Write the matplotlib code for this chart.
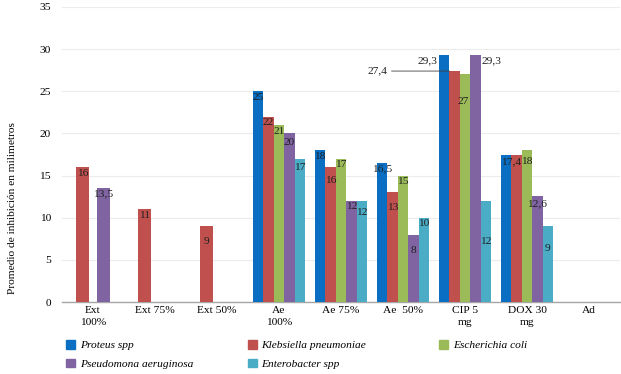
import numpy as np
import matplotlib
matplotlib.use("Agg")
import matplotlib.pyplot as plt
from matplotlib.patches import Patch

# --- data ---
categories = ["Ext\n100%", "Ext 75%", "Ext 50%", "Ae\n100%", "Ae 75%",
              "Ae  50%", "CIP 5\nmg", "DOX 30\nmg", "Ad"]
series_names = ["Proteus spp", "Klebsiella pneumoniae", "Escherichia coli",
                "Pseudomona aeruginosa", "Enterobacter spp"]
proteus = [0, 0, 0, 25, 18, 16.5, 29.3, 17.4, 0]
klebsiella = [16, 11, 9, 22, 16, 13, 27.4, 17.4, 0]
ecoli = [0, 0, 0, 21, 17, 15, 27, 18, 0]
pseudomona = [13.5, 0, 0, 20, 12, 8, 29.3, 12.6, 0]
enterobacter = [0, 0, 0, 17, 12, 10, 12, 9, 0]
yticks = [0, 5, 10, 15, 20, 25, 30, 35]

series = [proteus, klebsiella, ecoli, pseudomona, enterobacter]
colors = ["#0A6EC2", "#C0504D", "#9BBB59", "#8064A2", "#4BACC6"]

# label placement tweaks (category, series) -> (dx px, dy px below top, ha)
label_tweaks = {
    (2, 1): (0, 15, "center"),
    (3, 3): (0, 9, "center"),
    (3, 4): (0, 9, "center"),
    (4, 1): (0, 13, "center"),
    (4, 4): (0, 12, "center"),
    (5, 1): (0, 15, "center"),
    (5, 3): (0, 16, "center"),
    (6, 0): (-1, 6, "right"),
    (6, 2): (-2, 27, "center"),
    (6, 3): (1, 6, "left"),
    (6, 4): (0, 41, "center"),
    (7, 0): (5, 6, "center"),
    (7, 2): (0, 11, "center"),
    (7, 3): (0, 8, "center"),
    (7, 4): (0, 22, "center"),
}
skip_labels = {(7, 1), (6, 1)}

plt.rcParams["font.family"] = ["Liberation Serif", "DejaVu Serif"]

fig = plt.figure(figsize=(6.21, 3.74), dpi=100)
ax = fig.add_axes([62 / 621, 72 / 374, 558 / 621, 295 / 374])

x = np.arange(len(categories))
n_ext = 3
w5 = 0.168
w2 = 0.21
text_col = "#1f1f1f"
fs = 8.2

for i in range(len(categories)):
    for s, vals in enumerate(series):
        v = vals[i]
        if i < n_ext:
            if s not in (1, 3):
                continue
            xc = x[i] + (-0.17 if s == 1 else 0.17)
            w = w2
        else:
            xc = x[i] + (s - 2) * w5
            w = w5
        if v == 0:
            continue
        ax.bar(xc, v, width=w, color=colors[s], zorder=3)
        if (i, s) in skip_labels:
            continue
        dx, dy, ha = label_tweaks.get((i, s), (0, 6, "center"))
        if ha == "right":
            dx -= w * 62 / 2
        elif ha == "left":
            dx += w * 62 / 2
        txt = ("%g" % v).replace(".", ",")
        ax.annotate(txt, (xc, v), xytext=(dx, -dy), textcoords="offset pixels",
                    ha=ha, va="center", fontsize=fs, color=text_col, zorder=4)

# 27,4 label with leader line to the Klebsiella CIP bar
xr = x[6] - 1 * w5
ax.annotate("27,4", (xr - w5 / 2, klebsiella[6]), xytext=(-62, 0),
            textcoords="offset pixels", ha="right", va="center", fontsize=fs,
            color=text_col, zorder=4,
            arrowprops=dict(arrowstyle="-", color="#404040", lw=0.6,
                            shrinkA=1, shrinkB=0))

ax.set_xlim(-0.5, len(categories) - 0.5)
ax.set_ylim(0, 35)
ax.set_yticks(yticks)
ax.set_xticks(x)
ax.set_xticklabels(categories, fontsize=fs, linespacing=1.4)
ax.tick_params(axis="y", labelsize=fs, length=0, pad=8)
ax.tick_params(axis="x", length=0, pad=3)
ax.grid(axis="y", color="#ececec", lw=0.8, zorder=0)
for side in ["top", "right", "left"]:
    ax.spines[side].set_visible(False)
ax.spines["bottom"].set_color("#a6a6a6")
ax.spines["bottom"].set_linewidth(1.0)

ax.set_ylabel("Promedio de inhibición en milimetros", fontsize=fs)
ax.yaxis.set_label_coords(-45 / 558, (302 - 208) / 295)

# legend: first two columns (row-wise order), third column separately
leg_kw = dict(loc="upper left", frameon=False, prop={"style": "italic", "size": fs},
              handlelength=0.75, handleheight=0.75, handletextpad=0.45,
              labelspacing=0.75)
order = [0, 3, 1, 4]
fig.legend([Patch(color=colors[k]) for k in order], [series_names[k] for k in order],
           bbox_to_anchor=(56 / 621, 1 - 330 / 374), ncol=2, columnspacing=4.8, **leg_kw)
fig.legend([Patch(color=colors[2])], [series_names[2]],
           bbox_to_anchor=(429 / 621, 1 - 330 / 374), **leg_kw)

fig.savefig("out.png", dpi=100)
